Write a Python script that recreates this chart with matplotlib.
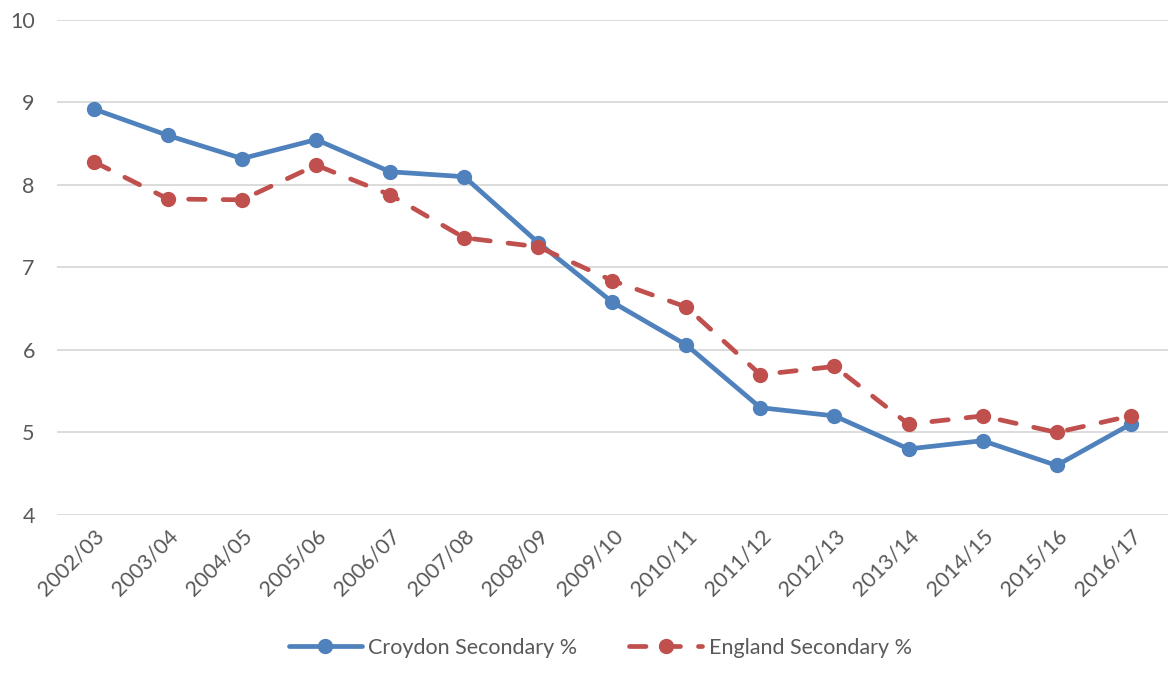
import matplotlib
matplotlib.use("Agg")
import matplotlib.pyplot as plt

years = ["2002/03", "2003/04", "2004/05", "2005/06", "2006/07", "2007/08", "2008/09",
         "2009/10", "2010/11", "2011/12", "2012/13", "2013/14", "2014/15", "2015/16", "2016/17"]
croydon = [8.92, 8.6, 8.32, 8.55, 8.16, 8.1, 7.3, 6.58, 6.06, 5.3, 5.2, 4.8, 4.9, 4.6, 5.1]
england = [8.28, 7.83, 7.82, 8.24, 7.88, 7.36, 7.25, 6.84, 6.52, 5.7, 5.8, 5.1, 5.2, 5.0, 5.2]
yticks = [4, 5, 6, 7, 8, 9, 10]

plt.rcParams['font.family'] = ['Lato', 'DejaVu Sans']
fig = plt.figure(figsize=(11.7, 6.82), dpi=100)
ax = fig.add_axes([0.0487, 0.245, 0.9493, 0.7257])

x = list(range(len(years)))
ax.plot(x, croydon, color='#4f81bd', lw=3.4, marker='o', ms=10, label='Croydon Secondary %',
        solid_capstyle='round', zorder=3)
ax.plot(x, england, color='#c0504d', lw=3.4, marker='o', ms=10, dashes=(3.5, 3.8),
        dash_capstyle='round', label='England Secondary %', zorder=4)

ax.set_xlim(-0.5, len(years) - 0.5)
ax.set_ylim(4, 10)
ax.set_yticks(yticks)
ax.set_yticklabels([str(v) for v in yticks])
ax.set_xticks(x)
ax.set_xticklabels(years, rotation=45, ha='right', rotation_mode='anchor')
ax.grid(axis='y', color='#d9d9d9', lw=1.3)
ax.set_axisbelow(True)
for s in ax.spines.values():
    s.set_visible(False)
ax.tick_params(axis='both', length=0, labelsize=15.5, labelcolor='#595959')
ax.tick_params(axis='y', pad=16)
ax.tick_params(axis='x', pad=8)

leg = fig.legend(loc='center', bbox_to_anchor=(0.513, 0.05), ncol=2, frameon=False,
                 fontsize=15.5, handlelength=3.4, handletextpad=0.3, columnspacing=2.4)
for t in leg.get_texts():
    t.set_color('#595959')

fig.savefig('out.png', dpi=100)
